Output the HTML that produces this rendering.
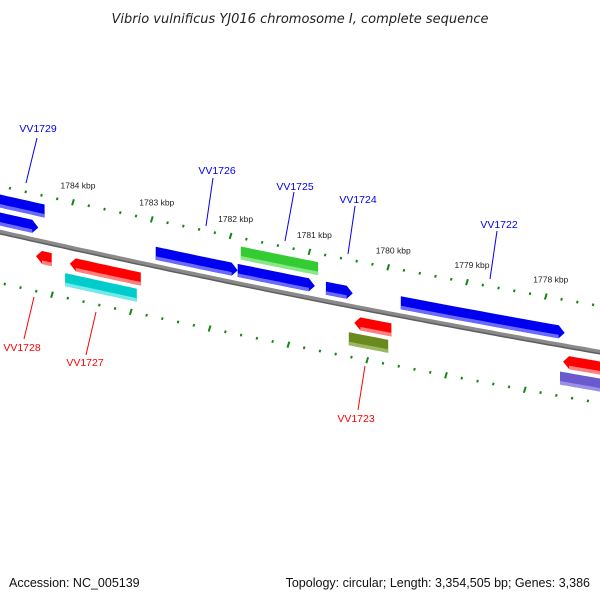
<!DOCTYPE html>
<html><head><meta charset="utf-8"><style>
body{margin:0;background:#fff}
svg{display:block;font-family:"Liberation Sans","DejaVu Sans",sans-serif}
</style></head><body>
<svg id="map" width="600" height="600" viewBox="0 0 600 600">
<text x="300" y="23" text-anchor="middle" font-size="13" font-style="italic" fill="#222" style="font-family:'DejaVu Sans',sans-serif">Vibrio vulnificus YJ016 chromosome I, complete sequence</text>
<text x="9" y="587" font-size="12.5" fill="#111">Accession: NC_005139</text>
<text x="590" y="587" font-size="12.5" fill="#111" text-anchor="end">Topology: circular; Length: 3,354,505 bp; Genes: 3,386</text>
<g id="ticks"></g>
<g id="backbone"></g>
<g id="features"></g>
<g id="labels"></g>
</svg>
<script>
// data
const tickKbp = [1785,1784,1783,1782,1781,1780,1779,1778,1777];
const geneStart = [1784.99,1784.99,1782.95,1781.87,1781.91,1780.79,1779.84,1784.47,1784.04,1784.10,1780.43,1780.50,1777.78,1777.82];
const geneEnd   = [1784.36,1784.44,1781.91,1780.89,1780.93,1780.45,1777.76,1784.27,1783.14,1783.19,1779.96,1780.00,1777.25,1777.25];
const geneStrand= [1,1,1,1,1,1,1,-1,-1,-1,-1,-1,-1,-1];
const geneRow   = [2,1,1,2,1,1,1,1,1,2,1,2,1,2];
const geneArrow = [0,1,1,0,1,1,1,1,1,0,1,0,1,0];
const geneColor = ['#0000f0','#0000f0','#0000f0','#33cc33','#0000f0','#0000f0','#0000f0','#ff0000','#ff0000','#00cccc','#ff0000','#6b8a1e','#ff0000','#6a5acd'];
const geneLight = ['#6a6aff','#6a6aff','#6a6aff','#88e888','#6a6aff','#6a6aff','#6a6aff','#ff8080','#ff8080','#70eaea','#ff8080','#9ab860','#ff8080','#9a90e8'];
const labelNames = ['VV1729','VV1726','VV1725','VV1724','VV1722','VV1728','VV1727','VV1723'];
const labelX = [38,217,295,358,499,22,85,356];
const labelY = [132,174,190,203,228,351,366,422];
const labelColor = ['#0000f0','#0000f0','#0000f0','#0000f0','#0000f0','#ff0000','#ff0000','#ff0000'];
const lineX1=[37,213,294,355,497,34,96,365], lineY1=[138,178,192,206,231,297,312,366];
const lineX2=[26,206,285,348,490,24,86,358], lineY2=[183,226,241,254,279,339,355,410];

const NS='http://www.w3.org/2000/svg';
function xOf(k){return 73+(1784-k)*78.8;}
function yb(x){return 232+0.2267*x-0.0000444*x*x;}
function mk(tag,attrs,parent){const e=document.createElementNS(NS,tag);for(const a in attrs)e.setAttribute(a,attrs[a]);parent.appendChild(e);return e;}
const rowOff={'1':-13,'2':-31,'-1':16,'-2':33};

// backbone
const bb=document.getElementById('backbone');
let d='',d2='';
for(let x=-5;x<=605;x+=5){d+=(x===-5?'M':'L')+x+','+(yb(x)).toFixed(1);d2+=(x===-5?'M':'L')+x+','+(yb(x)+1.8).toFixed(1);}
let p=mk('path',{d:d,stroke:'#8a8a8a','stroke-width':4.5,fill:'none'},bb);


p=mk('path',{d:d2,stroke:'#5e5e5e','stroke-width':1.5,fill:'none'},bb);



// ticks
const tg=document.getElementById('ticks');
for(let i=0;i<tickKbp.length-1;i++){
  for(let j=0;j<5;j++){
    const k=tickKbp[i]-j*0.2;
    [[-46,0],[51,-21]].forEach(([off,sh],ri)=>{
      const x=xOf(k)+sh, y=yb(x)+off;
      if(x<-5||x>605)return;
      const len=j===0?6:2.5;
      const t=mk('line',{x1:x+0.3*len/2,y1:y-len/2,x2:x-0.3*len/2,y2:y+len/2,stroke:'#118811','stroke-width':2},tg);
      
      
    });
    if(j===0){
      const x=xOf(k);
      if(x>0&&x<600){
        const t=mk('text',{x:x+5,y:yb(x)-46-14,'font-size':8.5,'text-anchor':'middle',fill:'#222'},tg);
        t.textContent=k+' kbp';
        
        
      }
    }
  }
}

// features
const fg=document.getElementById('features');
for(let i=0;i<geneStart.length;i++){
  const x1=xOf(geneStart[i]),x2=xOf(geneEnd[i]);
  const off=rowOff[String(geneStrand[i]*geneRow[i])];
  const h=6.5, ah=geneArrow[i]?6:0;
  const top=[],bot=[],lt=[];
  let a=x1,b=x2;
  if(geneStrand[i]>0)b=x2-ah;else a=x1+ah;
  for(let s=0;s<=12;s++){const x=a+(b-a)*s/12;top.push([x,yb(x)+off-h]);bot.push([x,yb(x)+off+h]);lt.push([x,yb(x)+off+h-3.5]);}
  let pts=top.slice();
  if(geneStrand[i]>0){
    if(ah)pts.push([x2,yb(x2)+off]);
    pts=pts.concat(bot.slice().reverse());
  } else {
    pts=pts.concat(bot.slice().reverse());
    if(ah)pts.push([x1,yb(x1)+off]);
  }
  const g=mk('g',{},fg);
  
  
  const poly=mk('polygon',{points:pts.map(q=>q[0].toFixed(1)+','+q[1].toFixed(1)).join(' '),fill:geneColor[i]},g);
  
  
  const strip=lt.concat(bot.slice().reverse());
  const s=mk('polygon',{points:strip.map(q=>q[0].toFixed(1)+','+q[1].toFixed(1)).join(' '),fill:geneLight[i]},g);
  
  
}

// labels
const lg=document.getElementById('labels');
for(let i=0;i<labelNames.length;i++){
  const l=mk('line',{x1:lineX1[i],y1:lineY1[i],x2:lineX2[i],y2:lineY2[i],stroke:labelColor[i],'stroke-width':1},lg);
  
  
  const t=mk('text',{x:labelX[i],y:labelY[i],'font-size':10.5,'text-anchor':'middle',fill:labelColor[i]},lg);
  t.textContent=labelNames[i];
  
  
}
</script>
</body></html>
